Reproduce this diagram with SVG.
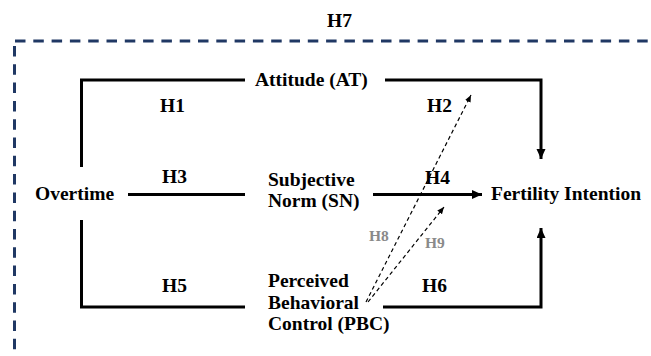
<svg xmlns="http://www.w3.org/2000/svg" width="651" height="356" viewBox="0 0 651 356">
  <style>
    .lbl { font-family: "Liberation Serif", "DejaVu Serif", serif; font-weight: bold; font-size: 19.5px; fill: #000; }
    .hyp { font-family: "Liberation Serif", "DejaVu Serif", serif; font-weight: bold; font-size: 19.5px; fill: #000; }
    .hyp-mod { font-family: "Liberation Serif", "DejaVu Serif", serif; font-weight: bold; font-size: 15.5px; fill: #8a8a8a; }
    .solid { fill: none; stroke: #000; stroke-width: 3; stroke-linejoin: miter; }
    .dash { fill: none; stroke: #000; stroke-width: 1.2; stroke-dasharray: 4 3; }
    .frame { fill: none; stroke: #203864; stroke-width: 3; stroke-dasharray: 10.5 7.8; }
  </style>
  <defs>
    <marker id="head" markerUnits="userSpaceOnUse" markerWidth="11" markerHeight="10" refX="10" refY="4.5" orient="auto">
      <path d="M0,0 L10,4.5 L0,9 z" fill="#000"/>
    </marker>
    <marker id="head-small" markerUnits="userSpaceOnUse" markerWidth="8" markerHeight="7" refX="7" refY="3" orient="auto">
      <path d="M0,0 L7,3 L0,6 z" fill="#000"/>
    </marker>
  </defs>

  <!-- moderation frame (H7) -->
  <g id="frame-h7">
    <path class="frame" d="M15,41 H651"/>
    <path class="frame" d="M14.5,46 V356"/>
    <text class="hyp" x="327" y="27">H7</text>
  </g>

  <!-- connectors -->
  <g id="connectors">
    <path class="solid" d="M81.5,167 V80 H245"/>
    <path class="solid" d="M385,80 H541 V159" marker-end="url(#head)"/>
    <path class="solid" d="M128,194.5 H245"/>
    <path class="solid" d="M373,194.5 H482" marker-end="url(#head)"/>
    <path class="solid" d="M81.5,220 V307 H245"/>
    <path class="solid" d="M383,307 H541 V228" marker-end="url(#head)"/>
    <path class="dash" d="M366,302 L471,95" marker-end="url(#head-small)"/>
    <path class="dash" d="M368,302 L444,207" marker-end="url(#head-small)"/>
  </g>

  <!-- hypothesis labels -->
  <g id="labels">
    <text class="hyp" x="160" y="112">H1</text>
    <text class="hyp" x="427" y="112">H2</text>
    <text class="hyp" x="162" y="183">H3</text>
    <text class="hyp" x="425" y="184">H4</text>
    <text class="hyp" x="162" y="292">H5</text>
    <text class="hyp" x="422" y="292">H6</text>
    <text class="hyp-mod" x="369" y="241">H8</text>
    <text class="hyp-mod" x="425" y="248">H9</text>
  </g>

  <!-- nodes -->
  <g id="node-overtime">
    <text class="lbl" x="35" y="200">Overtime</text>
  </g>
  <g id="node-attitude">
    <text class="lbl" x="255" y="86">Attitude (AT)</text>
  </g>
  <g id="node-sn">
    <text class="lbl" x="268" y="186">Subjective</text>
    <text class="lbl" x="268" y="207">Norm (SN)</text>
  </g>
  <g id="node-pbc">
    <text class="lbl" x="268" y="287">Perceived</text>
    <text class="lbl" x="268" y="309">Behavioral</text>
    <text class="lbl" x="268" y="330">Control (PBC)</text>
  </g>
  <g id="node-fi">
    <text class="lbl" x="491" y="200">Fertility Intention</text>
  </g>
</svg>
